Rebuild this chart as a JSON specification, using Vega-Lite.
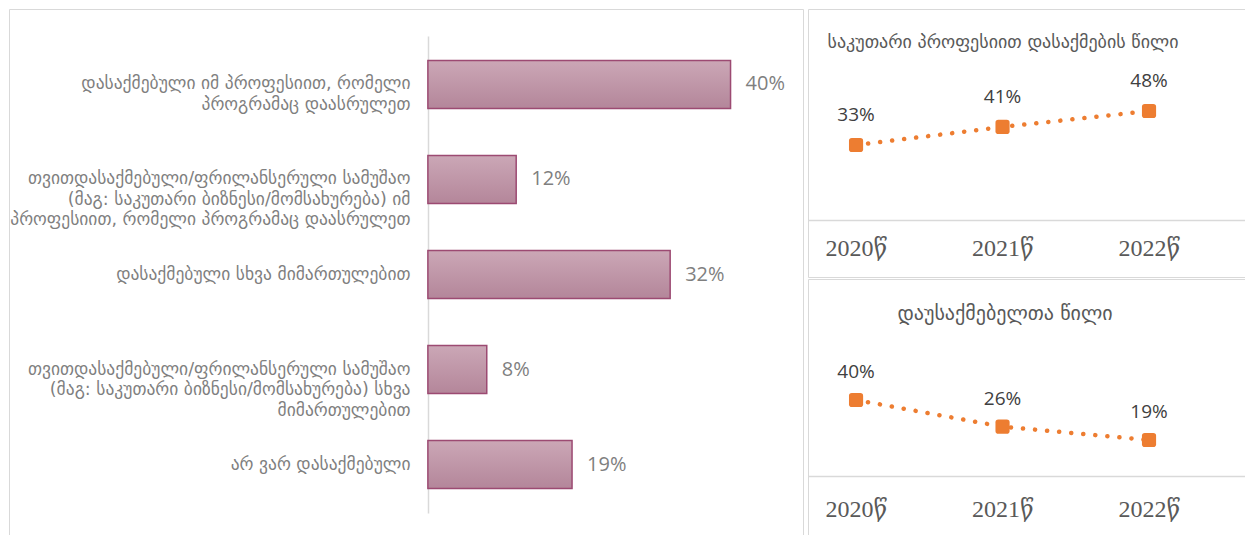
{
  "$schema": "https://vega.github.io/schema/vega-lite/v6.json",
  "padding": {"left": 8, "top": 8, "right": 0, "bottom": 0},
  "autosize": {"type": "pad"},
  "background": "white",
  "config": {"view": {"stroke": "#d9d9d9", "strokeWidth": 1}, "font": "DejaVu Sans"},
  "spacing": 3,
  "datasets": {
    "bars": [
      {"cat": "დასაქმებული იმ პროფესიით, რომელი|პროგრამაც დაასრულეთ", "value": 0.401},
      {"cat": "თვითდასაქმებული/ფრილანსერული სამუშაო|(მაგ: საკუთარი ბიზნესი/მომსახურება) იმ|პროფესიით, რომელი პროგრამაც დაასრულეთ", "value": 0.117},
      {"cat": "დასაქმებული სხვა მიმართულებით", "value": 0.321},
      {"cat": "თვითდასაქმებული/ფრილანსერული სამუშაო|(მაგ: საკუთარი ბიზნესი/მომსახურება) სხვა|მიმართულებით", "value": 0.078},
      {"cat": "არ ვარ დასაქმებული", "value": 0.191}
    ],
    "own": [
      {"year": "2020წ", "share": 0.33},
      {"year": "2021წ", "share": 0.41},
      {"year": "2022წ", "share": 0.48}
    ],
    "unemp": [
      {"year": "2020წ", "share": 0.40},
      {"year": "2021წ", "share": 0.26},
      {"year": "2022წ", "share": 0.19}
    ]
  },
  "hconcat": [
    {
      "width": 794,
      "height": 532,
      "data": {"name": "bars"},
      "encoding": {
        "y": {
          "field": "cat", "type": "nominal", "sort": null,
          "scale": {"range": [27, 504], "paddingInner": 0.495, "paddingOuter": 0.258},
          "axis": {
            "title": null, "orient": "left", "offset": -419, "ticks": false, "tickSize": 0,
            "labelPadding": 18, "domainColor": "#d9d9d9", "domainWidth": 1.5,
            "labelColor": "#7f7f7f", "labelFontSize": 17.5, "labelFont": "DejaVu Sans",
            "labelLimit": 600, "labelExpr": "split(datum.label, '|')", "labelLineHeight": 20.5,
            "labelBaseline": "middle", "labelAlign": "right"
          }
        },
        "x": {
          "field": "value", "type": "quantitative",
          "scale": {"domain": [-0.555, 0.497], "zero": false, "nice": false},
          "axis": null
        }
      },
      "layer": [
        {
          "mark": {
            "type": "bar",
            "fill": {"gradient": "linear", "x1": 0, "y1": 0, "x2": 0, "y2": 1,
              "stops": [{"offset": 0, "color": "#cba7b6"}, {"offset": 1, "color": "#b4869a"}]},
            "stroke": "#9c4a72", "strokeWidth": 1.5
          },
          "encoding": {"x2": {"datum": 0}}
        },
        {
          "mark": {"type": "text", "align": "left", "baseline": "middle", "dx": 15, "font": "Open Sans", "fontSize": 20, "color": "#7f7f7f"},
          "encoding": {"text": {"field": "value", "type": "quantitative", "format": ".0%"}}
        }
      ]
    },
    {
      "spacing": 0,
      "vconcat": [
        {
          "width": 450,
          "height": 268,
          "title": {"text": "საკუთარი პროფესიით დასაქმების წილი", "offset": -52, "baseline": "middle", "frame": "group", "dx": -30, "fontSize": 18, "fontWeight": "normal", "color": "#595959", "font": "DejaVu Sans", "anchor": "middle"},
          "data": {"name": "own"},
          "encoding": {
            "x": {
              "field": "year", "type": "ordinal", "sort": null,
              "scale": {"type": "point", "padding": 0.536, "align": 0.306},
              "axis": {"title": null, "orient": "bottom", "offset": -29, "domain": false, "ticks": false, "tickSize": 0, "labelPadding": 0, "labelBaseline": "middle", "labelFont": "Liberation Serif, DejaVu Serif, DejaVu Sans", "labelFontSize": 24, "labelColor": "#595959", "labelAngle": 0, "labelOverlap": false}
            },
            "y": {
              "field": "share", "type": "quantitative",
              "scale": {"domain": [-0.252, 0.93], "zero": false, "nice": false},
              "axis": {"title": null, "values": [0], "grid": true, "gridColor": "#d9d9d9", "gridWidth": 1.5, "domain": false, "ticks": false, "labels": false}
            }
          },
          "layer": [
            {"mark": {"type": "line", "color": "#ED7D31", "strokeWidth": 4.5, "strokeDash": [0.1, 12], "strokeCap": "round"}},
            {"mark": {"type": "point", "shape": "M -0.6,-1 L 0.6,-1 Q 1,-1 1,-0.6 L 1,0.6 Q 1,1 0.6,1 L -0.6,1 Q -1,1 -1,0.6 L -1,-0.6 Q -1,-1 -0.6,-1 Z", "filled": true, "size": 200, "color": "#ED7D31", "opacity": 1}},
            {"mark": {"type": "text", "dy": -30, "baseline": "middle", "font": "Open Sans", "fontSize": 19, "color": "#404040"},
             "encoding": {"text": {"field": "share", "type": "quantitative", "format": ".0%"}}}
          ]
        },
        {
          "width": 450,
          "height": 258,
          "title": {"text": "დაუსაქმებელთა წილი", "offset": -55, "baseline": "middle", "frame": "group", "dx": -28, "fontSize": 20, "fontWeight": "normal", "color": "#595959", "font": "DejaVu Sans", "anchor": "middle"},
          "data": {"name": "unemp"},
          "encoding": {
            "x": {
              "field": "year", "type": "ordinal", "sort": null,
              "scale": {"type": "point", "padding": 0.536, "align": 0.306},
              "axis": {"title": null, "orient": "bottom", "offset": -28, "domain": false, "ticks": false, "tickSize": 0, "labelPadding": 0, "labelBaseline": "middle", "labelFont": "Liberation Serif, DejaVu Serif, DejaVu Sans", "labelFontSize": 24, "labelColor": "#595959", "labelAngle": 0, "labelOverlap": false}
            },
            "y": {
              "field": "share", "type": "quantitative",
              "scale": {"domain": [-0.319, 1.035], "zero": false, "nice": false},
              "axis": {"title": null, "values": [0], "grid": true, "gridColor": "#d9d9d9", "gridWidth": 1.5, "domain": false, "ticks": false, "labels": false}
            }
          },
          "layer": [
            {"mark": {"type": "line", "color": "#ED7D31", "strokeWidth": 4.5, "strokeDash": [0.1, 12], "strokeCap": "round"}},
            {"mark": {"type": "point", "shape": "M -0.6,-1 L 0.6,-1 Q 1,-1 1,-0.6 L 1,0.6 Q 1,1 0.6,1 L -0.6,1 Q -1,1 -1,0.6 L -1,-0.6 Q -1,-1 -0.6,-1 Z", "filled": true, "size": 200, "color": "#ED7D31", "opacity": 1}},
            {"mark": {"type": "text", "dy": -28, "baseline": "middle", "font": "Open Sans", "fontSize": 19, "color": "#404040"},
             "encoding": {"text": {"field": "share", "type": "quantitative", "format": ".0%"}}}
          ]
        }
      ]
    }
  ]
}
